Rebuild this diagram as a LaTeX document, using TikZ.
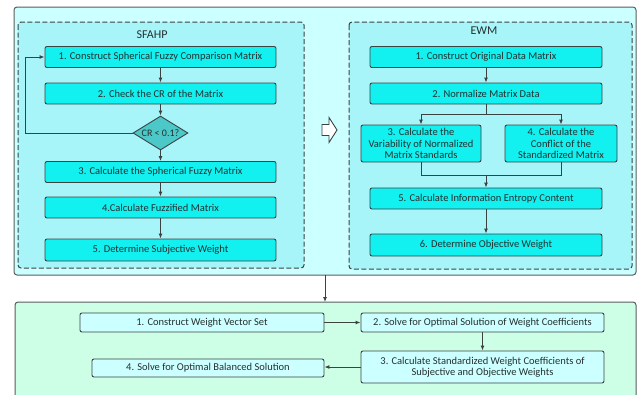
\documentclass[tikz,border=0pt]{standalone}
\usepackage{fontspec}
\setmainfont{Carlito}
\usetikzlibrary{arrows.meta,shapes.geometric}
\definecolor{edgec}{HTML}{3A4242}
\definecolor{txtc}{HTML}{263030}
\definecolor{outerc}{HTML}{CCFFFF}
\definecolor{dashc}{HTML}{A8F5F9}
\definecolor{procc}{HTML}{12F0F0}
\definecolor{diamc}{HTML}{4CC8C8}
\definecolor{mintc}{HTML}{CCFFE6}
\definecolor{lightbox}{HTML}{CCFFFF}
\tikzset{
  proc/.style={draw=edgec, fill=procc, line width=0.9pt, rounded corners=2pt,
    minimum height=21, inner sep=1pt, text=txtc, font=\fontsize{10.5}{11.2}\selectfont, align=center},
  lproc/.style={proc, fill=lightbox},
  decide/.style={diamond, draw=edgec, fill=diamc, line width=0.9pt, minimum width=55, minimum height=34,
    inner sep=0pt, text=txtc, font=\fontsize{10}{11}\selectfont, aspect=1.6},
  conn/.style={draw=edgec, line width=0.9pt, -{Latex[length=5pt,width=4pt]}},
  plain/.style={draw=edgec, line width=0.9pt},
  panel/.style={draw=edgec!85, line width=1pt, rounded corners=3pt},
  dpanel/.style={draw=edgec, line width=1pt, dash pattern=on 5pt off 2.5pt, rounded corners=3pt},
  ttl/.style={text=txtc, font=\fontsize{12}{13}\selectfont},
}
\begin{document}
\begin{tikzpicture}[x=1pt,y=-1pt]
\clip (0,0) rectangle (642,394);
\useasboundingbox (0,0) rectangle (642,394);
\fill[white] (0,0) rectangle (642,394);
% panels
\path[panel, fill=outerc] (14,7) rectangle (636,275);
\path[dpanel, fill=dashc] (18,22) rectangle (304,268);
\path[dpanel, fill=dashc] (349,22) rectangle (632,269);
\path[panel, fill=mintc] (15,302) rectangle (636,420);
\node[ttl] (tS) at (152,35) {SFAHP};
\node[ttl] (tE) at (484,31) {EWM};
% SFAHP
\node[proc, minimum width=231] (s1) at (160.5,57) {1. Construct Spherical Fuzzy Comparison Matrix};
\node[proc, minimum width=231] (s2) at (160.5,93.5) {2. Check the CR of the Matrix};
\node[decide] (sd) at (160.5,133) {CR < 0.1?};
\node[proc, minimum width=231] (s3) at (160.5,172) {3. Calculate the Spherical Fuzzy Matrix};
\node[proc, minimum width=231] (s4) at (160.5,207.5) {4.Calculate Fuzzified Matrix};
\node[proc, minimum width=231, minimum height=22] (s5) at (160.5,250) {5. Determine Subjective Weight};
\coordinate (fbA) at (25,133);
\coordinate (fbB) at (25,57);
\draw[conn] (s1) -- (s2);
\draw[conn] (s2) -- (sd);
\draw[conn] (sd) -- (s3);
\draw[conn] (s3) -- (s4);
\draw[conn] (s4) -- (s5);
\draw[conn] (sd.west) -- (fbA) -- (fbB) -- (s1.west);
% EWM
\node[proc, minimum width=232] (e1) at (486,57) {1. Construct Original Data Matrix};
\node[proc, minimum width=232] (e2) at (486,93.5) {2. Normalize Matrix Data};
\node[proc, minimum width=120, minimum height=37] (e3) at (421,143.5) {3. Calculate the\\Variability of Normalized\\Matrix Standards};
\node[proc, minimum width=112, minimum height=37] (e4) at (561,143.5) {4. Calculate the\\Conflict of the\\Standardized Matrix};
\node[proc, minimum width=232] (e5) at (486,198.5) {5. Calculate Information Entropy Content};
\node[proc, minimum width=232, minimum height=22] (e6) at (486,245) {6. Determine Objective Weight};
\coordinate (sp) at (486,114);
\coordinate (mg) at (486,175);
\draw[conn] (e1) -- (e2);
\draw[plain] (e2) -- (sp);
\draw[conn] (sp) -| (e3.north);
\draw[conn] (sp) -| (e4.north);
\draw[plain] (e3.south) |- (mg);
\draw[plain] (e4.south) |- (mg);
\draw[conn] (mg) -- (e5);
\draw[conn] (e5) -- (e6);
% hollow arrow
\draw[draw=edgec, fill=white, line width=0.9pt, line join=miter]
  (322,124.5) -- (329,124.5) -- (329,117.5) -- (337,130) -- (329,142.5) -- (329,135.5) -- (322,135.5) -- cycle;
% bottom
\coordinate (tb) at (325,275);
\coordinate (bt) at (325,302);
\draw[conn] (tb) -- (bt);
\node[lproc, minimum width=244, minimum height=19] (b1) at (202,322.5) {1. Construct Weight Vector Set};
\node[lproc, minimum width=243, minimum height=19] (b2) at (482.5,322.5) {2. Solve for Optimal Solution of Weight Coefficients};
\node[lproc, minimum width=243, minimum height=32] (b3) at (482.5,367) {3. Calculate Standardized Weight Coefficients of\\Subjective and Objective Weights};
\node[lproc, minimum width=232, minimum height=18] (b4) at (208,368) {4. Solve for Optimal Balanced Solution};
\draw[conn] (b1) -- (b2);
\draw[conn] (b2) -- (b3);
\draw[conn] (b3.west) -- (b4.east |- b3.west);
\end{tikzpicture}
\end{document}
